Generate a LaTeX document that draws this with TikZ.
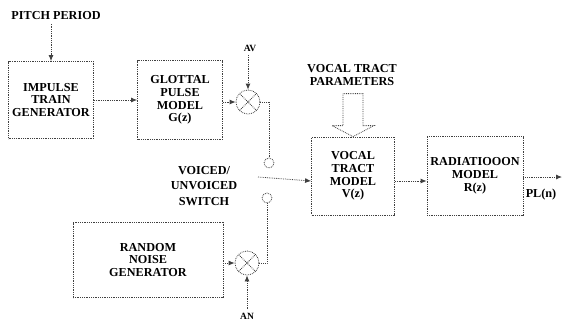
\documentclass[tikz,border=0pt]{standalone}
\usepackage{fontspec}
\setmainfont{Liberation Serif}
\usetikzlibrary{calc, arrows.meta}

\begin{document}
\begin{tikzpicture}[x=1pt, y=-1pt, thick,
  font=\bfseries\fontsize{12.2}{12.8}\selectfont,
  link/.style={densely dotted, line width=0.8pt, black!75},
  arr/.style={link, -{Latex[length=6pt, width=5pt]}},
  block/.style={draw, densely dotted, line width=0.8pt, black!75,
    text=black, align=center, inner sep=1pt},
  mult/.style={circle, draw, densely dotted, line width=0.8pt, black!75,
    minimum size=24pt, inner sep=0pt,
    path picture={\draw[densely dotted]
      (path picture bounding box.north west) -- (path picture bounding box.south east)
      (path picture bounding box.south west) -- (path picture bounding box.north east);}},
  contact/.style={circle, draw, densely dotted, line width=0.8pt, black!75,
    minimum size=10pt, inner sep=0pt},
  small/.style={font=\bfseries\fontsize{9.5}{10}\selectfont},
]
  \useasboundingbox (0,0) rectangle (564,322);
  % blocks
  \node (pitch) at (56,16) {PITCH PERIOD};
  \node[block, minimum width=85pt, minimum height=77pt] (imp) at (51,100)
    {IMPULSE\\TRAIN\\GENERATOR};
  \node[block, minimum width=85pt, minimum height=79pt] (glot) at (180,100)
    {GLOTTAL\\PULSE\\MODEL\\G(z)};
  \node[mult] (mulv) at (248,102) {};
  \node[small] (av) at (250,48) {AV};
  \node[block, minimum width=150pt, minimum height=75pt] (noise) at (148,260)
    {RANDOM\\NOISE\\GENERATOR};
  \node[mult] (muln) at (247,263) {};
  \node[small] (an) at (247,316) {AN};
  % switch
  \node[contact] (sw1) at (269,163) {};
  \node[contact] (sw2) at (267,198) {};
  \coordinate (pivot) at (258,177);
  \node[align=center, font=\bfseries\fontsize{12.2}{15.5}\selectfont] (swlbl) at (204,186)
    {VOICED/\\UNVOICED\\SWITCH};
  \node[block, minimum width=83pt, minimum height=78pt] (vocal) at (353,176)
    {VOCAL\\TRACT\\MODEL\\V(z)};
  \node[align=center] (param) at (352,75) {VOCAL TRACT\\PARAMETERS};
  \node[block, minimum width=96pt, minimum height=79pt] (rad) at (475,176)
    {RADIATIOOON\\MODEL\\R(z)};
  \coordinate (out) at (562,177);
  \node (pl) at (541,195) {PL(n)};
  % connections
  \draw[arr] (pitch.south -| imp.north) -- (imp.north);
  \draw[arr] (imp) -- (glot);
  \draw[arr] (glot.east |- mulv) -- (mulv);
  \draw[arr] (av.south -| mulv) -- (mulv.north);
  \draw[link] (mulv.east) -| (sw1.north);
  \draw[arr] (noise.east |- muln) -- (muln);
  \draw[arr] (an.north -| muln) -- (muln.south);
  \draw[link] (muln.east) -| (sw2.south);
  \draw[arr] (pivot) -- ([yshift=-5pt]vocal.west);
  \draw[arr] ([yshift=-5pt]vocal.east) -- ([yshift=-5pt]rad.west);
  \draw[arr] ([yshift=-1pt]rad.east) -- (out);
  \draw[link] ($(vocal.north)+(-10,-43)$) -- ++(0,32) -- ++(-11,0)
    -- (vocal.north) -- ++(21,-11) -- ++(-11,0) -- ++(0,-32) -- cycle;
\end{tikzpicture}
\end{document}
